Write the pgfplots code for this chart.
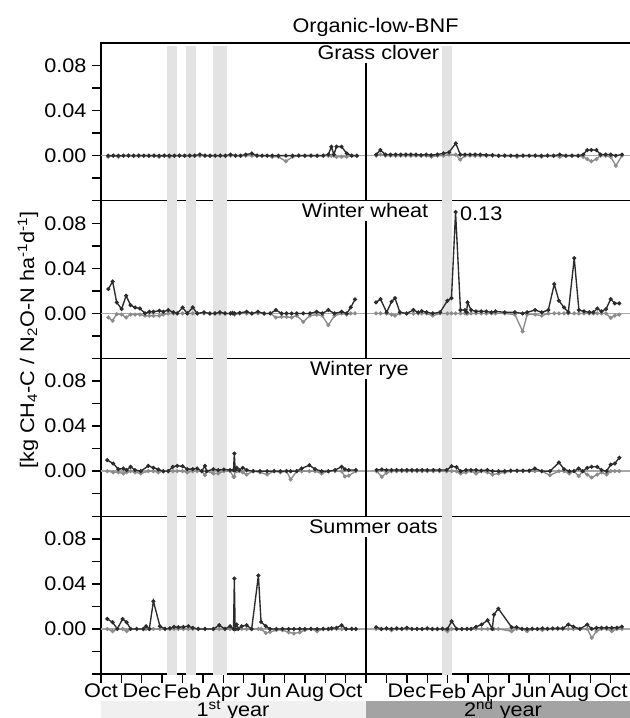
\documentclass[border=0pt]{standalone}
\usepackage{pgfplots}
\pgfplotsset{compat=1.18}
\usepackage{pgfplotstable}
\usepackage{fontspec}
\setmainfont{Liberation Sans}[FakeStretch=1.1]
\newcommand\F{\fontsize{12.3}{14.8}\selectfont}
\definecolor{band}{gray}{0.89}
\definecolor{bl}{gray}{0.17}
\definecolor{gr}{gray}{0.55}
\definecolor{zl}{gray}{0.66}
\definecolor{yrA}{gray}{0.94}
\definecolor{yrB}{gray}{0.64}

% ---------- Grass clover ----------
\pgfplotstableread{
x b g
0.35 0 -0.001
0.6 0 0
0.85 0 -0.001
1.1 0 0
1.35 0 0
1.6 0 0
1.85 0 0
2.1 0 0
2.35 0 0
2.6 0 0
2.85 0 -0.001
3.1 0 0
3.35 0 -0.001
3.6 0 0
3.85 0 0
4.1 0 0
4.35 0 0
4.6 0 0
4.85 0.001 0
5.1 0 0
5.35 0 0
5.6 0 0
5.85 0 0
6.1 0 0
6.35 0.001 0
6.6 0 0
6.85 0 0
7.1 0.001 0
7.4 0.002 0
7.65 0 0
7.9 0 0
8.15 0 0
8.4 0 -0.001
8.7 0 -0.001
9.07 0 -0.005
9.4 0 -0.001
9.7 0 0
10.0 0 0
10.3 0 0
10.6 0 0
10.9 0 0
11.15 0.001 0
11.3 0.008 0
11.42 0.001 0
11.55 0.008 -0.001
11.8 0.008 -0.001
12.05 0.002 -0.001
12.3 0 0
12.55 0 0
}\tAL
\pgfplotstableread{
x b g
13.5 0.001 0
13.7 0.005 0.001
13.95 0.001 0
14.2 0.001 0
14.45 0.001 0
14.7 0.001 0
14.95 0.001 0
15.2 0.001 0
15.45 0.001 0
15.7 0.0005 0
15.95 0.001 0
16.2 0.0005 -0.001
16.5 0.001 0
16.8 0.002 0
17.07 0.003 0.001
17.4 0.011 0.001
17.62 0.001 -0.0035
17.85 0.001 0
18.1 0.001 0
18.35 0.001 0
18.6 0.001 0
18.9 0.0005 0
19.2 0.0005 0
19.5 0 0
19.8 0 0
20.1 0 0
20.4 0 -0.001
20.7 0 0
21.0 0 0
21.3 0 0
21.6 0 -0.001
21.9 0 0
22.2 0 0
22.5 0.001 -0.001
22.8 0 0
23.1 0 0
23.4 0 0
23.65 0.001 -0.001
23.85 0.005 -0.003
24.05 0.005 -0.005
24.3 0.005 -0.003
24.5 0.001 0
24.75 0.001 0
25.0 0.001 -0.001
25.25 0 -0.009
25.55 0.001 0
}\tAR

% ---------- Winter wheat ----------
\pgfplotstableread{
x b g
0.36 0.0216 -0.0036
0.57 0.0284 -0.0065
0.77 0.0098 -0.0006
1.01 0.0039 -0.001
1.23 0.0157 -0.0036
1.45 0.0074 -0.001
1.67 0.0053 -0.001
1.91 0.0044 -0.001
2.16 0.0 -0.002
2.37 0.0015 -0.002
2.57 0.0015 -0.002
2.86 0.0024 -0.002
3.06 0.0015 -0.001
3.30 0.003 0
3.55 0.001 0
3.74 0 0
4.0 0.0053 0
4.23 0 0
4.5 0.0053 0
4.72 0 0
5.05 0.001 0
5.34 0 0
5.59 0 0
5.83 0.001 0
6.08 0 0
6.35 0 0
6.45 0.0005 0
6.55 0 -0.001
6.8 0.0005 0
7.14 0.0015 0
7.4 0 0
7.7 0.0015 0
8.0 0 0
8.3 0 0
8.58 0.003 -0.0036
8.86 0 -0.003
9.1 0 -0.003
9.35 0 -0.0036
9.6 0 -0.002
9.92 0 -0.0074
10.25 0 -0.002
10.58 0.0015 -0.001
10.85 0 -0.002
11.15 0.003 -0.0104
11.45 0 -0.002
11.8 0.0015 0
12.05 0 -0.001
12.25 0.0053 0
12.46 0.0125 0
}\tBL
\pgfplotstableread{
x b g
13.49 0.0098 0
13.71 0.0127 0
14.01 0.001 0
14.25 0.0104 -0.001
14.42 0.0136 -0.002
14.66 0.001 0
14.99 0 0
15.32 0.003 0
15.56 0.001 0
15.73 0.002 0
15.97 0.001 0
16.27 0 -0.002
16.63 0.001 0
16.99 0.0113 0
17.19 0.0136 0
17.39 0.09 0
17.63 0.003 0
17.85 0.003 0
17.93 0.001 0
17.98 0.0098 0
18.15 0.003 0
18.39 0.0018 0
18.65 0.0018 0
18.9 0.0018 0
19.15 0.001 0
19.35 0.0018 0
19.8 0.001 0
20.3 0.001 -0.001
20.68 0.0 -0.016
20.9 0.001 -0.001
21.29 0.003 -0.001
21.62 0.001 -0.002
21.94 0.003 0
22.23 0.026 0
22.46 0.0113 0
22.71 0.0053 0
22.92 0.001 0
23.21 0.049 0
23.44 0.003 0
23.69 0.0018 0
23.95 0.001 0
24.15 0.001 0
24.34 0.0044 0
24.55 0.0018 0
24.77 0.0039 0
25.0 0.0127 -0.004
25.2 0.0089 -0.002
25.42 0.0089 -0.001
}\tBR

% ---------- Winter rye ----------
\pgfplotstableread{
x b g
0.31 0.0098 0
0.6 0.0068 -0.001
0.85 0.0018 -0.001
1.1 0.0024 -0.002
1.26 0.001 -0.001
1.45 0.0039 0
1.67 0.001 -0.001
1.95 0 -0.002
2.32 0.0047 0
2.57 0.003 0
2.81 0.0015 -0.001
3.06 0 0
3.3 0 0
3.52 0.0039 0
3.74 0.0047 0
4.0 0.0044 0
4.23 0.0018 -0.001
4.5 0.0018 0
4.72 0.0024 0
4.94 0 0
5.1 0.0047 -0.0036
5.18 0 0
5.51 0.0018 -0.002
5.75 0.001 -0.002
6.03 0.0015 0
6.33 0.001 0
6.50 0.001 -0.005
6.54 0.0157 -0.005
6.58 0.001 0
6.65 0.003 0
6.78 0.001 0
6.95 0.003 -0.001
7.14 0.001 -0.003
7.47 0 0
7.8 0 -0.001
8.15 0 -0.003
8.5 0 0
8.8 0 -0.001
9.1 0 0
9.3 0 -0.0074
9.6 0 0
9.84 0.0024 0
10.22 0.0053 0
10.5 0.0018 0
10.82 0 -0.002
11.15 0 0
11.48 0.001 0
11.8 0.0039 0
11.96 0.0018 -0.0047
12.15 0.001 -0.004
12.5 0.001 0
}\tCL
\pgfplotstableread{
x b g
13.52 0.001 0
13.77 0.0015 -0.005
14.0 0.001 -0.0015
14.25 0.001 0
14.5 0.001 0
14.75 0.001 0
15.0 0.001 0
15.25 0.001 0
15.5 0.001 0
15.75 0.001 0
16.0 0.001 0
16.3 0.001 0
16.6 0.001 0
16.95 0.001 0
17.2 0.0044 0
17.44 0.0036 0
17.64 0 -0.002
17.9 0.001 -0.001
18.15 0.001 0
18.4 0.001 -0.002
18.65 0.0005 0
18.95 0.001 -0.001
19.2 0 -0.003
19.5 0 -0.002
19.8 0 -0.001
20.1 0.0005 0
20.4 0.0005 0
20.7 0.0005 0
21.0 0.0005 0
21.28 0.0024 0
21.62 0 0
22.02 0 -0.0036
22.46 0.0077 0
22.71 0.0018 0
22.97 0 -0.002
23.2 0 0
23.43 0.0024 -0.0044
23.62 0 0
23.85 0.003 -0.003
24.06 0.0039 -0.0056
24.34 0.0039 -0.003
24.55 0.001 -0.001
24.8 0 -0.003
25.0 0.0059 0
25.2 0.0068 0
25.42 0.0119 0
}\tCR

% ---------- Summer oats ----------
\pgfplotstableread{
x b g
0.31 0.0089 0
0.57 0.0059 -0.002
0.8 0 0
1.06 0.0089 0
1.26 0.0059 -0.002
1.45 0 0
1.75 0 0
2.08 0 0
2.21 0.0024 0
2.37 0 0
2.57 0.0246 0
2.89 0.0024 0
3.14 0 0
3.38 0.0006 0
3.58 0.0018 0
3.79 0.0015 0
4.04 0.0018 0
4.28 0.0024 0
4.5 0.001 0
4.77 0 0
5.1 0 0
5.51 0 0
5.8 0.0033 0
6.08 0 0
6.33 0.0024 0
6.5 0 0
6.54 0.0447 0
6.58 0 0
6.65 0.0039 0
6.73 0 0
6.9 0.0024 0
7.14 0.0033 0
7.39 0 0
7.72 0.0474 0
7.85 0.0062 0
8.08 0.0024 -0.0036
8.29 0 -0.0027
8.6 0 -0.001
8.9 0 -0.001
9.2 0 -0.003
9.46 0 -0.004
9.75 0 -0.003
10.0 0 -0.001
10.3 0 0
10.6 0 -0.002
10.9 0 0
11.15 0 0
11.31 0.0006 0
11.55 0.001 0
11.8 0.0033 0
12.02 0 0
12.3 0 0
12.5 0 0
}\tDL
\pgfplotstableread{
x b g
13.49 0.0015 0
13.75 0 0
14.0 0.0005 0
14.25 0 -0.001
14.5 0.0005 0
14.75 0 0
15.0 0.001 0
15.25 0 0
15.5 0 0
15.75 0 0
16.0 0.0005 0
16.25 0 0
16.5 0 0
16.75 0 0
16.99 0 -0.002
17.2 0.0068 0
17.44 0 0
17.7 0 0
17.95 0 0
18.15 0 0
18.39 0.0018 0
18.67 0.0039 0
18.96 0.0077 0
19.19 0 0
19.27 0.0127 0
19.49 0.018 0
20.14 0.0015 -0.002
20.39 0.0015 0
20.65 0 0
20.9 0 -0.002
21.15 0 0
21.4 0 0
21.65 0.0005 -0.001
21.9 0 0
22.15 0.0005 0
22.4 0.0005 0
22.65 0.0005 0
22.92 0.0039 0
23.17 0.002 0
23.49 0 0
23.85 0.0039 0
24.07 0 -0.008
24.3 0.001 -0.002
24.55 0.001 0
24.8 0.001 0
25.05 0.001 -0.002
25.3 0.001 0
25.55 0.002 0
}\tDR

\tikzset{
  bser/.style={draw=bl, line width=0.85pt, mark=*, mark size=0.8pt, mark options={fill=bl, draw=bl, solid}},
  gser/.style={draw=gr, line width=0.85pt, mark=*, mark size=0.8pt, mark options={fill=gr, draw=gr, solid}},
}
\pgfplotsset{panel/.style={
  anchor=north west, scale only axis,
  width=334.375pt, height=98.594pt,
  xmin=0, xmax=26.24, ymin=-0.04, ymax=0.10,
  axis line style={line width=0.9pt, black},
  ytick={0,0.04,0.08}, minor ytick={-0.04,-0.02,0.02,0.06},
  ytick pos=left, tick align=outside,
  major tick length=5.6pt, minor tick length=5.6pt,
  tick style={line width=0.9pt, black},
  /pgf/number format/assume math mode=true,
  yticklabel style={/pgf/number format/.cd, fixed, fixed zerofill, precision=2},
  tick label style={font=\F},
  xtick=\empty,
  clip=true,
}}
\newcommand\bands[1]{%
  \addplot[fill=band, draw=none] coordinates {(3.22,-0.05) (3.22,#1) (3.71,#1) (3.71,-0.05)} -- cycle;
  \addplot[fill=band, draw=none] coordinates {(4.17,-0.05) (4.17,#1) (4.66,#1) (4.66,-0.05)} -- cycle;
  \addplot[fill=band, draw=none] coordinates {(5.49,-0.05) (5.49,#1) (6.16,#1) (6.16,-0.05)} -- cycle;
  \addplot[fill=band, draw=none] coordinates {(16.71,-0.05) (16.71,#1) (17.21,#1) (17.21,-0.05)} -- cycle;
  \addplot[zl, line width=0.9pt] coordinates {(0,0) (26.24,0)};
}
\newcommand\series[2]{%
  \addplot[gser] table[x=x, y=g] {#1};
  \addplot[gser] table[x=x, y=g] {#2};
  \addplot[bser] table[x=x, y=b] {#1};
  \addplot[bser] table[x=x, y=b] {#2};
  \addplot[black, line width=0.9pt] coordinates {(13,-0.05) (13,0.082)};
}

\begin{document}
\begin{tikzpicture}
\useasboundingbox (0,0) rectangle (393.125pt,-448.75pt);

\begin{axis}[panel, at={(63.125pt,-26.875pt)}]
  \bands{0.0975}
  \series{\tAL}{\tAR}
  \node[anchor=base, font=\F] at (axis cs:13.6,0.085) {Grass clover};
\end{axis}

\begin{axis}[panel, at={(63.125pt,-125.469pt)}]
  \bands{0.11}
  \series{\tBL}{\tBR}
  \node[anchor=base, font=\F] at (axis cs:12.95,0.085) {Winter wheat};
  \node[anchor=base west, font=\F, inner sep=0pt] at (axis cs:17.6,0.0823) {0.13};
\end{axis}

\begin{axis}[panel, at={(63.125pt,-224.063pt)}]
  \bands{0.11}
  \series{\tCL}{\tCR}
  \node[anchor=base, font=\F] at (axis cs:12.67,0.085) {Winter rye};
\end{axis}

\begin{axis}[panel, at={(63.125pt,-322.656pt)},
  xtick={0,...,25},
  xticklabels={Oct,,Dec,,Feb,,Apr,,Jun,,Aug,,Oct,,,Dec,,Feb,,Apr,,Jun,,Aug,,Oct},
  xtick pos=bottom,
  xticklabel style={yshift=3pt}]
  \bands{0.11}
  \series{\tDL}{\tDR}
  \node[anchor=base, font=\F] at (axis cs:13.36,0.085) {Summer oats};
\end{axis}

% title and y label
\node[anchor=base, font=\F] at (234.69pt,-20.31pt) {Organic-low-BNF};
\node[rotate=90, font=\F] at (17.5pt,-212.5pt)
  {[kg CH\textsubscript{4}-C / N\textsubscript{2}O-N ha\textsuperscript{-1}d\textsuperscript{-1}]};

% year bars
\fill[yrA] (63.125pt,-437.94pt) rectangle (228.75pt,-452pt);
\fill[yrB] (228.75pt,-437.94pt) rectangle (410pt,-452pt);
\node[anchor=base, font=\F] at (145.63pt,-447.5pt) {1\textsuperscript{st} year};
\node[anchor=base, font=\F] at (314.38pt,-447.5pt) {2\textsuperscript{nd} year};
\end{tikzpicture}
\end{document}
